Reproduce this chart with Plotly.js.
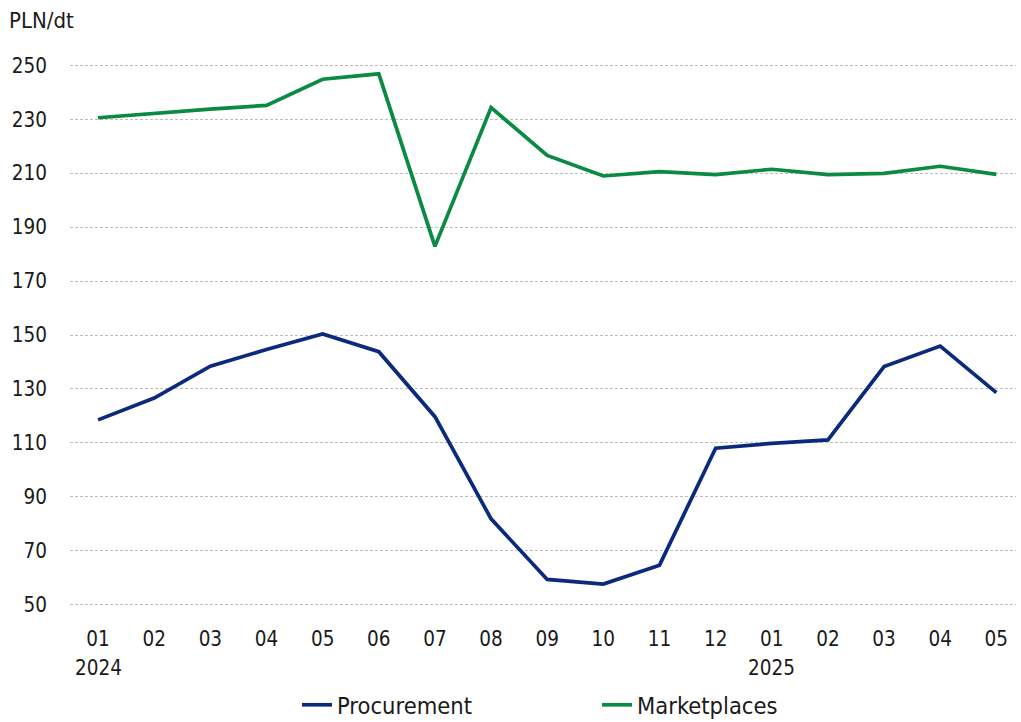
<!DOCTYPE html>
<html>
<head>
<meta charset="utf-8">
<script src="https://cdn.plot.ly/plotly-3.0.1.min.js"></script>
<style>html,body{margin:0;padding:0;background:#fff;}#chart{width:1021px;height:722px;}</style>
</head>
<body>
<div id="chart"></div>
<script>
const months = ["01","02","03","04","05","06","07","08","09","10","11","12","01","02","03","04","05"];
const yearLabels = ["2024","","","","","","","","","","","","2025","","","",""];
const procurement = [118.5,126.6,138.4,144.6,150.4,143.8,119.7,81.8,59.3,57.6,64.6,108.0,109.8,111.1,138.3,145.9,128.6];
const marketplaces = [230.6,232.3,233.8,235.2,244.9,246.9,182.9,234.4,216.6,209.0,210.6,209.5,211.5,209.5,210.0,212.6,209.6];
const yTicks = [50,70,90,110,130,150,170,190,210,230,250];

const idx = months.map((m,i)=>i);
const FONT = "DejaVu Sans Condensed, sans-serif";
const TXT = '#1a1a1a';

const traces = [
  {x: idx, y: procurement, type:'scatter', mode:'lines', name:'Procurement',
   line:{color:'#0b2a7d', width:3.7}},
  {x: idx, y: marketplaces, type:'scatter', mode:'lines', name:'Marketplaces',
   line:{color:'#0a8a42', width:3.7}}
];

const annotations = yearLabels.map((t,i)=>t ? {
  x:i, xref:'x', y:0, yref:'paper', yanchor:'top', yshift:-36,
  text:t, showarrow:false, font:{family:FONT, size:20.5, color:TXT}
} : null).filter(a=>a);

const layout = {
  width:1021, height:722,
  margin:{l:70, r:5, t:52, b:104},
  paper_bgcolor:'#fff', plot_bgcolor:'#fff',
  font:{family:FONT, size:20.5, color:TXT},
  title:{text:'PLN/dt', xref:'container', x:9/1021, xanchor:'left', yref:'container', y:1-20/722, yanchor:'middle',
         font:{family:FONT, size:22, color:TXT}},
  xaxis:{tickmode:'array', tickvals:idx, ticktext:months, range:[-0.5,16.35],
         showgrid:false, zeroline:false, showline:false, ticks:'', ticklabelstandoff:6,
         fixedrange:true},
  yaxis:{tickmode:'array', tickvals:yTicks, range:[45,255], showgrid:true,
         gridcolor:'#bdbdbd', gridwidth:1, griddash:'3px,2px', zeroline:false, showline:false,
         ticks:'', ticklabelstandoff:22},
  showlegend:true,
  legend:{orientation:'h', xref:'container', x:297/1021, xanchor:'left', yref:'container', y:17/722, yanchor:'middle',
          entrywidth:255, entrywidthmode:'pixels', font:{family:FONT, size:23.5, color:TXT}},
  annotations: annotations
};

Plotly.newPlot('chart', traces, layout, {displayModeBar:false, staticPlot:true});
</script>
</body>
</html>
